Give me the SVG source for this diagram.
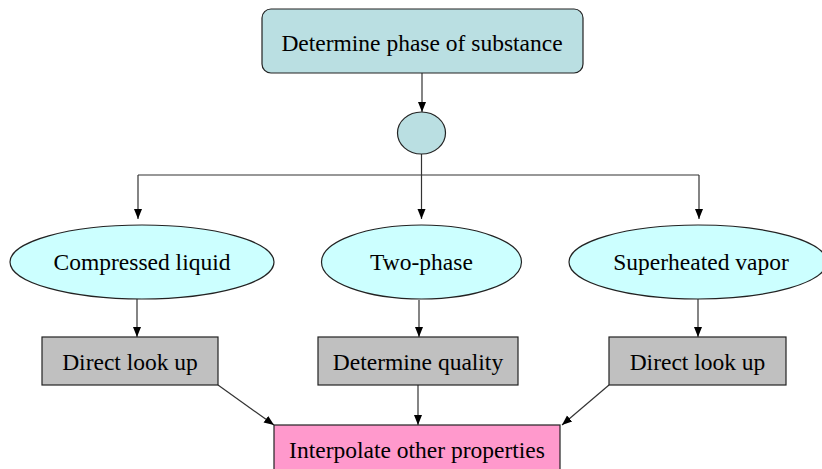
<svg xmlns="http://www.w3.org/2000/svg" width="822" height="469" viewBox="0 0 822 469">
<style>
text{font-family:"Liberation Serif","Times New Roman",serif;font-size:23.5px;fill:#000;text-anchor:middle}
.c{stroke:#333;stroke-width:1.2;fill:none;marker-end:url(#ah)}
.n{stroke:#222;stroke-width:1.2}
</style>
<defs>
<marker id="ah" markerUnits="userSpaceOnUse" markerWidth="10" markerHeight="10" viewBox="0 0 10 10" refX="10" refY="5" orient="auto">
<path d="M0,1 L10,5 L0,9 Z" fill="#000"/>
</marker>
</defs>
<g id="connectors">
<path class="c" d="M422,73 V112"/>
<path class="c" style="marker-end:none" d="M421.5,154 V175"/>
<path class="c" style="marker-end:none" d="M138,175 H699"/>
<path class="c" d="M138,175 V219"/>
<path class="c" d="M421.5,175 V219"/>
<path class="c" d="M699,175 V219"/>
<path class="c" d="M137,299 V337"/>
<path class="c" d="M419,300 V337"/>
<path class="c" d="M698,299 V337"/>
<path class="c" d="M218,385 L274,425"/>
<path class="c" d="M418,385 V425"/>
<path class="c" d="M609,385 L562,425"/>
</g>
<g id="top">
<rect class="n" x="262" y="9" width="321" height="64" rx="9" fill="#badfe2"/>
<text x="422" y="50.5">Determine phase of substance</text>
</g>
<g id="junction">
<ellipse class="n" cx="421.5" cy="133" rx="24" ry="21" fill="#badfe2"/>
</g>
<g id="compressed">
<ellipse class="n" cx="142" cy="262" rx="132" ry="37" fill="#ccffff"/>
<text x="142" y="270">Compressed liquid</text>
</g>
<g id="twophase">
<ellipse class="n" cx="421.5" cy="262" rx="100" ry="37" fill="#ccffff"/>
<text x="421.5" y="270">Two-phase</text>
</g>
<g id="superheated">
<ellipse class="n" cx="698" cy="262" rx="129" ry="37" fill="#ccffff"/>
<text x="701" y="270">Superheated vapor</text>
</g>
<g id="lookup1">
<rect class="n" x="42" y="337" width="176" height="48" fill="#c0c0c0"/>
<text x="130" y="370">Direct look up</text>
</g>
<g id="quality">
<rect class="n" x="318" y="337" width="200" height="48" fill="#c0c0c0"/>
<text x="418" y="370">Determine quality</text>
</g>
<g id="lookup2">
<rect class="n" x="609" y="337" width="177" height="48" fill="#c0c0c0"/>
<text x="697.5" y="370">Direct look up</text>
</g>
<g id="interpolate">
<rect class="n" x="274" y="425" width="286" height="50" fill="#ff99cc"/>
<text x="417" y="458">Interpolate other properties</text>
</g>
</svg>
